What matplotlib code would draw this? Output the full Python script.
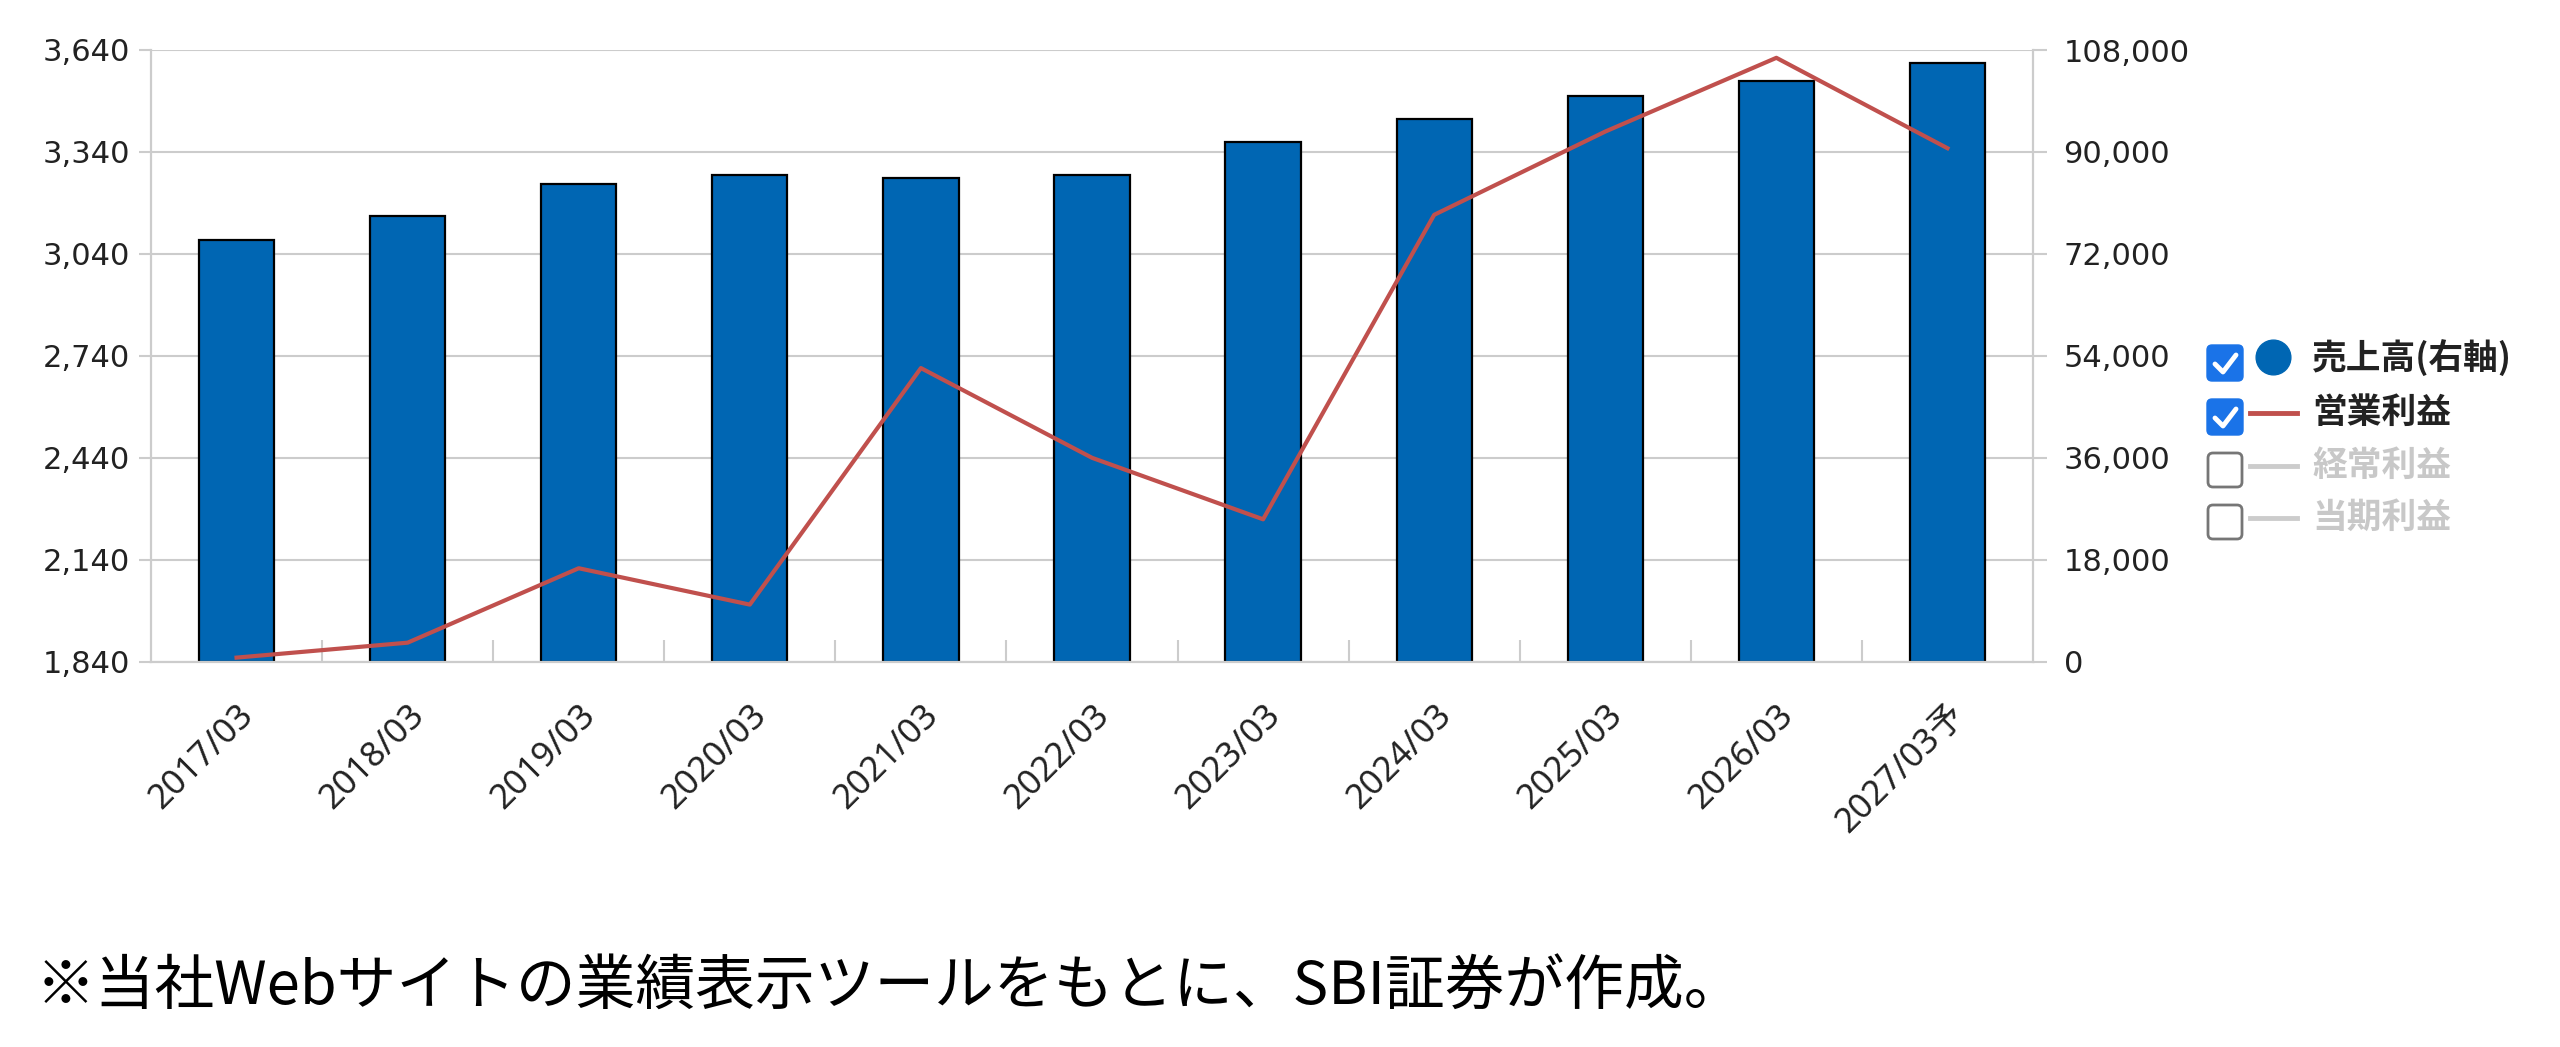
import matplotlib.pyplot as plt
from matplotlib.ticker import FuncFormatter
from matplotlib.patches import FancyBboxPatch
from matplotlib.lines import Line2D
from matplotlib.transforms import IdentityTransform

# data
years = ["2017/03", "2018/03", "2019/03", "2020/03", "2021/03", "2022/03",
         "2023/03", "2024/03", "2025/03", "2026/03", "2027/03予"]
sales = [74450, 78750, 84350, 85850, 85420, 85850, 91700, 95770, 99930, 102530, 105650]  # 売上高 (right axis)
op_profit = [1852, 1896, 2115, 2008, 2704, 2440, 2259, 3155, 3400, 3617, 3351]  # 営業利益 (left axis)
left_ticks = [1840, 2140, 2440, 2740, 3040, 3340, 3640]
right_ticks = [0, 18000, 36000, 54000, 72000, 90000, 108000]
legend_labels = ["売上高(右軸)", "営業利益", "経常利益", "当期利益"]
legend_on = [True, True, False, False]

W, H = 2560, 1047
BLUE = "#0066b3"
RED = "#c0504d"
GRID = "#cccccc"
TXT = "#222222"

fig = plt.figure(figsize=(W / 100, H / 100), dpi=100)
fig.patch.set_facecolor("white")

ax = fig.add_axes([151 / W, 1 - 661.7 / H, 1882 / W, 611.7 / H])
xs = list(range(len(years)))
ax.bar(xs, sales, width=0.44, color=BLUE, edgecolor="black", linewidth=1.6, zorder=2)
ax.set_ylim(0, 108000)
ax.set_xlim(-0.5, len(years) - 0.5)
ax.grid(axis="y", color=GRID, linewidth=1.5, zorder=0)
ax.set_axisbelow(True)

ax2 = ax.twinx()
ax2.plot(xs, op_profit, color=RED, linewidth=3, zorder=3)
ax2.set_ylim(1840, 3640)

# bars on the right axis, line on the left axis
ax.yaxis.tick_right()
ax2.yaxis.tick_left()
ax.set_yticks(right_ticks)
ax2.set_yticks(left_ticks)
fmt = FuncFormatter(lambda v, p: f"{int(v):,}")
ax.yaxis.set_major_formatter(fmt)
ax2.yaxis.set_major_formatter(fmt)

ax.tick_params(axis="y", length=10, width=1.5, color=GRID, pad=12, labelsize=22, labelcolor=TXT)
ax2.tick_params(axis="y", length=9, width=1.5, color=GRID, pad=6, labelsize=22, labelcolor=TXT)

ax.set_xticks(xs)
ax.set_xticklabels(years, rotation=45, ha="right", va="top", rotation_mode="anchor",
                   fontsize=25, color=TXT, family=["Noto Sans", "Noto Sans CJK JP"])
ax.set_xticks([i + 0.5 for i in range(len(years) - 1)], minor=True)
ax.tick_params(axis="x", which="major", length=0, pad=26)
ax.tick_params(axis="x", which="minor", direction="in", length=16, width=1.5, color=GRID)

for a in (ax, ax2):
    a.spines["top"].set_visible(False)
    for s in ("left", "right", "bottom"):
        a.spines[s].set_color(GRID)
        a.spines[s].set_linewidth(1.5)

# legend drawn by hand (checkbox list on the right)
tr = IdentityTransform()
def P(x, y):
    return x, H - y

row_y = [363, 417, 470, 522]
for i, (lab, on) in enumerate(zip(legend_labels, legend_on)):
    cy = row_y[i]
    bx, by = P(2207, cy + 18)
    if on:
        box = FancyBboxPatch((bx, by), 36, 36, boxstyle="round,pad=0,rounding_size=5",
                             facecolor="#1a73e8", edgecolor="#1a73e8", linewidth=1, transform=tr)
        fig.add_artist(box)
        cx = [2215, 2223, 2236]
        cyy = [cy + 1, cy + 9, cy - 8]
        fig.add_artist(Line2D(cx, [H - v for v in cyy], color="white", linewidth=3.5,
                              solid_capstyle="round", solid_joinstyle="round", transform=tr))
    else:
        box = FancyBboxPatch((bx + 1, by + 1), 34, 34, boxstyle="round,pad=0,rounding_size=5",
                             facecolor="white", edgecolor="#767676", linewidth=2, transform=tr)
        fig.add_artist(box)
    if i == 0:
        fig.add_artist(Line2D([2273], [H - 357], marker="o", markersize=25, color=BLUE,
                              linestyle="none", transform=tr))
    else:
        col = RED if on else "#cccccc"
        fig.add_artist(Line2D([2250, 2297], [H - (cy - 4)] * 2, color=col, linewidth=3.5, transform=tr))
    fig.text(2312, H - (cy - 5), lab, transform=tr, ha="left", va="center", fontsize=25,
             fontweight="bold", color=TXT if on else "#c8c8c8", family=["Noto Sans CJK JP"])

fig.text(36 / W, 1 - 988 / H, "※当社Webサイトの業績表示ツールをもとに、SBI証券が作成。",
         ha="left", va="center", fontsize=43, color="black", family=["Noto Sans CJK JP", "DejaVu Sans"])

fig.savefig("out.png", dpi=100, facecolor="white")
